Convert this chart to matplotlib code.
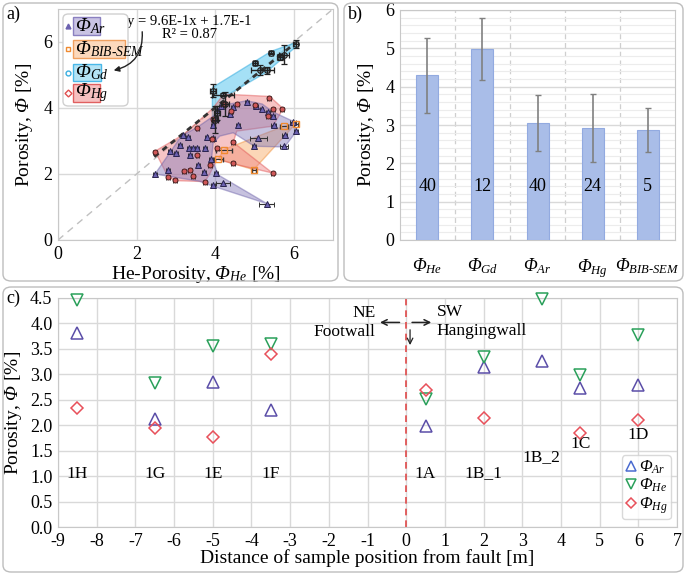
import matplotlib
matplotlib.use('Agg')
import matplotlib.pyplot as plt
from matplotlib.patches import FancyBboxPatch, Polygon, Rectangle, FancyArrowPatch
from matplotlib.lines import Line2D
import numpy as np

plt.rcParams['font.family'] = ['Liberation Serif', 'DejaVu Serif']
plt.rcParams['mathtext.fontset'] = 'custom'
plt.rcParams['mathtext.rm'] = 'Liberation Serif'
plt.rcParams['mathtext.it'] = 'Liberation Serif:italic'
plt.rcParams['mathtext.sf'] = 'Liberation Serif:italic'
plt.rcParams['mathtext.bf'] = 'Liberation Serif:bold'
plt.rcParams['axes.unicode_minus'] = False

W, H = 685, 574

PHI = r'\mathsf{Φ}'

# ---------------- Panel a data ----------------
ar_x = [2.47, 2.80, 2.86, 3.10, 3.17, 3.31, 3.33, 3.44, 3.53, 3.36, 3.57, 3.71, 3.74, 3.78,
        3.95, 4.02, 4.03, 4.20, 3.95, 5.31, 4.37, 4.46, 4.58, 4.80, 5.03, 5.18, 5.35, 5.47,
        5.49, 5.10, 5.00, 5.75, 5.77, 5.98, 6.05, 3.95, 4.05, 3.90, 3.00, 4.15]
ar_y = [2.00, 2.13, 2.69, 2.89, 3.17, 3.13, 2.79, 2.79, 2.79, 2.59, 2.28, 2.05, 2.79, 3.13,
        3.50, 3.71, 2.03, 1.74, 1.67, 1.10, 3.81, 4.02, 3.50, 4.19, 4.07, 3.96, 3.88, 3.76,
        3.47, 3.08, 2.84, 2.84, 3.17, 3.58, 3.30, 3.10, 3.95, 2.45, 2.65, 4.05]
ar_xerr = [0.05, 0.05, 0.05, 0.05, 0.05, 0.05, 0.05, 0.05, 0.05, 0.05, 0.05, 0.05, 0.05, 0.05,
           0.05, 0.05, 0.05, 0.18, 0.05, 0.20, 0.05, 0.05, 0.05, 0.05, 0.05, 0.05, 0.05, 0.05,
           0.07, 0.22, 0.05, 0.10, 0.07, 0.07, 0.05, 0.05, 0.05, 0.05, 0.05, 0.05]

hg_x = [2.47, 2.80, 2.97, 3.36, 3.44, 3.55, 3.55, 3.74, 3.91, 3.95, 4.22, 4.46, 4.46, 4.56,
        5.01, 5.37, 5.35, 5.47, 5.71, 5.46, 3.86, 4.05, 3.20, 4.40]
hg_y = [2.66, 1.92, 1.82, 2.13, 1.95, 2.57, 3.40, 1.77, 3.05, 3.66, 4.12, 2.96, 2.33, 4.12,
        4.09, 4.29, 3.76, 3.98, 3.98, 2.03, 2.28, 2.80, 2.10, 3.90]

bib_x = [4.08, 4.22, 4.98, 5.75, 6.05]
bib_y = [2.45, 2.74, 2.13, 3.45, 3.52]
bib_xerr = [0.12, 0.20, 0.05, 0.10, 0.05]

gd_x = [3.95, 4.20, 4.25, 4.00, 4.05, 5.02, 5.14, 5.31, 5.43, 5.75, 5.65, 6.05]
gd_y = [4.52, 4.40, 4.12, 3.65, 3.85, 5.36, 5.16, 5.14, 5.68, 5.62, 5.55, 5.93]
gd_xerr = [0.07, 0.28, 0.10, 0.08, 0.08, 0.05, 0.22, 0.18, 0.05, 0.12, 0.08, 0.07]
gd_yerr = [0.20, 0.05, 0.35, 0.40, 0.20, 0.05, 0.15, 0.10, 0.05, 0.28, 0.10, 0.12]

ar_hull = [(2.47, 2.0), (3.14, 3.15), (3.55, 3.42), (3.95, 3.75), (4.2, 4.1), (4.46, 4.14),
           (4.8, 4.22), (5.2, 4.12), (5.47, 3.88), (5.98, 3.6), (6.07, 3.3), (5.77, 2.82),
           (5.0, 2.84), (4.46, 3.25), (4.12, 3.15), (3.95, 2.94), (3.91, 2.48), (4.08, 1.97),
           (5.32, 1.1), (3.95, 1.63), (3.6, 1.78)]
hg_hull = [(2.47, 2.69), (3.2, 3.2), (3.95, 4.0), (4.22, 4.42), (5.39, 4.35), (5.73, 3.98),
           (5.47, 3.45), (4.55, 3.3), (4.46, 2.96), (5.46, 2.03), (4.46, 2.31), (4.05, 2.45),
           (3.86, 2.0), (3.74, 1.77), (2.97, 1.8), (2.8, 1.92)]
bib_hull = [(4.08, 2.45), (4.22, 2.74), (5.75, 3.45), (6.07, 3.55), (4.98, 2.13)]
gd_hull = [(3.93, 4.62), (5.02, 5.42), (5.43, 5.72), (6.05, 5.98), (6.05, 5.85), (5.3, 5.08),
           (4.25, 4.35), (4.02, 3.6), (3.93, 3.6)]

fit_slope, fit_icpt = 0.96, 0.17
fit_range = [2.45, 6.05]

# ---------------- Panel b data ----------------
b_names = ['He', 'Gd', 'Ar', 'Hg', r'BIB\text{-}SEM']
b_means = [4.30, 4.98, 3.05, 2.92, 2.87]
b_std = [0.98, 0.80, 0.74, 0.89, 0.58]
b_counts = ['40', '12', '40', '24', '5']

# ---------------- Panel c data ----------------
c_x = [-8.5, -6.5, -5.0, -3.5, 0.5, 2.0, 3.5, 4.5, 6.0]
c_names = ['1H', '1G', '1E', '1F', '1A', '1B_1', '1B_2', '1C', '1D']
c_ar = [3.81, 2.13, 2.85, 2.29, 1.99, 3.15, 3.26, 2.73, 2.79]
c_he = [4.46, 2.83, 3.56, 3.60, 2.51, 3.35, 4.49, 2.99, 3.77]
c_hg = [2.33, 1.94, 1.77, 3.40, 2.69, 2.15, np.nan, 1.84, 2.10]
c_label_y = [1.05, 1.05, 1.05, 1.05, 1.05, 1.05, 1.37, 1.64, 1.80]


def phi(sub=None):
    if sub is None:
        return r'$' + PHI + r'$'
    return r'$' + PHI + r'_{\mathit{' + sub + r'}}$'


fig = plt.figure(figsize=(W / 100, H / 100), dpi=100)


def fr(px, py):
    return px / W, 1 - py / H


def ax_rect(l, t, r, b):
    return [l / W, 1 - b / H, (r - l) / W, (b - t) / H]


grid_c = '#d9d9d9'
spine_c = '#c8c8c8'

# panel frames
for (l, t, r, b) in [(3, 3, 338, 281), (344, 3, 683, 281), (3, 287, 683, 572)]:
    fig.add_artist(FancyBboxPatch(fr(l, b), (r - l) / W, (b - t) / H,
                                  boxstyle='round,pad=0,rounding_size=0.012',
                                  transform=fig.transFigure, fill=False,
                                  edgecolor='#bdbdbd', lw=1.0))

# ================= Panel a =================
axa = fig.add_axes(ax_rect(58, 9, 333, 240))
axa.set_xlim(0, 7)
axa.set_ylim(0, 7)
axa.set_xticks([0, 2, 4, 6])
axa.set_yticks([0, 2, 4, 6])
axa.grid(True, color=grid_c, lw=1.0)
axa.set_axisbelow(True)
for s in axa.spines.values():
    s.set_color(spine_c)
axa.tick_params(length=0, labelsize=13, pad=4)
axa.plot([0, 7], [0, 7], ls=(0, (5, 4)), color='#c0c0c0', lw=1.0, zorder=1)

axa.add_patch(Polygon(gd_hull, closed=True, fc='#5bc8f0', ec='#3aaee0', alpha=0.55, lw=1, zorder=2))
axa.add_patch(Polygon(bib_hull, closed=True, fc='#f7a860', ec='#f08a30', alpha=0.45, lw=1, zorder=2))
axa.add_patch(Polygon(hg_hull, closed=True, fc='#ee8080', ec='#e05050', alpha=0.45, lw=1, zorder=2))
axa.add_patch(Polygon(ar_hull, closed=True, fc='#8378b8', ec='#6a5fa8', alpha=0.45, lw=1, zorder=3))

fx = np.array(fit_range)
axa.plot(fx, fit_slope * fx + fit_icpt, color='#333333', lw=2.0, ls=(0, (2.0, 1.8)), zorder=4)

axa.errorbar(ar_x, ar_y, xerr=ar_xerr, fmt='^', ms=3.8, mfc='#6c62b0', mec='#2a2450', mew=0.7,
             ecolor='#333333', elinewidth=0.8, capsize=1.8, zorder=5)
axa.errorbar(hg_x, hg_y, xerr=0.05, fmt='o', ms=3.6, mfc='#d05858', mec='#4a2020', mew=0.7,
             ecolor='#333333', elinewidth=0.8, capsize=1.8, zorder=5)
axa.errorbar(bib_x, bib_y, xerr=bib_xerr, fmt='s', ms=4, mfc='none', mec='#f08a30', mew=1.0,
             ecolor='#333333', elinewidth=0.8, capsize=1.8, zorder=5)
axa.errorbar(gd_x, gd_y, xerr=gd_xerr, yerr=gd_yerr, fmt='o', ms=4, mfc='none', mec='#222222',
             mew=0.9, ecolor='#222222', elinewidth=1.0, capsize=2, zorder=6)

axa.set_xlabel('He-Porosity, ' + phi('He') + ' [%]', fontsize=14, labelpad=1)
axa.set_ylabel('Porosity, ' + phi() + ' [%]', fontsize=14, labelpad=6)

# legend a (drawn manually)
fig.add_artist(FancyBboxPatch(fr(63, 106), 65 / W, 92 / H,
                              boxstyle='round,pad=0,rounding_size=0.008',
                              transform=fig.transFigure, fc='white', ec='#d0d0d0', lw=1, zorder=10))
leg_items = [
    ('^', '#6c62b0', '#c9c3e3', '#8a80c0', (73, 17, 100, 35), 'Ar'),
    ('s', '#f08a30', '#fcd9bd', '#f0a060', (73, 40, 125, 58), r'BIB\text{-}SEM'),
    ('o', '#3aaee0', '#b3e3f5', '#4ab8e8', (73, 64, 101, 81), 'Gd'),
    ('D', '#e05050', '#f7c0c0', '#e06060', (73, 84, 100, 102), 'Hg'),
]
for mk, mc, rfc, rec, (l, t, r, b), sub in leg_items:
    fig.add_artist(Rectangle(fr(l, b), (r - l) / W, (b - t) / H, transform=fig.transFigure,
                             fc=rfc, ec=rec, lw=1, zorder=11))
    cy = (t + b) / 2
    fig.add_artist(Line2D([68 / W], [1 - cy / H], marker=mk, ms=3.5, mfc='none' if mk != '^' else mc,
                          mec=mc, mew=1, transform=fig.transFigure, zorder=12))
    fig.text(l / W + 2 / W, 1 - cy / H, phi(sub), fontsize=14, va='center', ha='left', zorder=12)

fig.text(189 / W, 1 - 22 / H, 'y = 9.6E-1x + 1.7E-1', fontsize=10.5, ha='center', va='center')
fig.text(189 / W, 1 - 34 / H, 'R² = 0.87', fontsize=10.5, ha='center', va='center')
fig.add_artist(FancyArrowPatch(fr(142, 29), fr(111, 71), transform=fig.transFigure,
                               connectionstyle='arc3,rad=-0.45', arrowstyle='-|>',
                               mutation_scale=8, color='#222222', lw=1.0, zorder=13))
fig.text(6 / W, 1 - 14 / H, 'a)', fontsize=13, ha='left', va='center')

# ================= Panel b =================
axb = fig.add_axes(ax_rect(400, 10, 675, 240))
xb = np.arange(len(b_means))
axb.bar(xb, b_means, width=0.4, color='#a9bde8', edgecolor='#92aae0', lw=0.8, zorder=3)
axb.errorbar(xb, b_means, yerr=b_std, fmt='none', ecolor='#808080', elinewidth=1.2, capsize=2.5,
             capthick=1.0, zorder=4)
for xi, n in zip(xb, b_counts):
    axb.text(xi, 1.4, n, ha='center', va='center', fontsize=13, zorder=5)
axb.set_xlim(-0.5, len(b_means) - 0.5)
axb.set_ylim(0, 6)
axb.set_yticks(range(0, 7))
axb.set_yticks(np.arange(0, 6.01, 0.2), minor=True)
axb.grid(True, which='major', axis='y', color=grid_c, lw=1.0, zorder=0)
axb.grid(True, which='minor', axis='y', color='#ececec', lw=0.8, zorder=0)
for xv in np.arange(0.5, len(b_means) - 0.5, 1):
    axb.axvline(xv, color='#cfcfcf', ls=(0, (4, 3)), lw=0.9, zorder=1)
axb.set_xticks(xb)
axb.set_xticklabels([phi(n) for n in b_names], fontsize=13)
axb.tick_params(axis='both', which='both', length=0)
axb.tick_params(axis='y', labelsize=13, pad=4)
axb.tick_params(axis='x', pad=12)
for s in axb.spines.values():
    s.set_color(spine_c)
axb.set_ylabel('Porosity, ' + phi() + ' [%]', fontsize=14, labelpad=6)
fig.text(348 / W, 1 - 14 / H, 'b)', fontsize=13, ha='left', va='center')

# ================= Panel c =================
axc = fig.add_axes(ax_rect(58, 298, 677, 527))
axc.set_xlim(-9, 7)
axc.set_ylim(0, 4.5)
axc.set_xticks(range(-9, 8))
axc.set_yticks(np.arange(0, 4.51, 0.5))
axc.set_yticklabels([f'{v:.1f}' for v in np.arange(0, 4.51, 0.5)])
axc.grid(True, color=grid_c, lw=1.0)
axc.set_axisbelow(True)
for s in axc.spines.values():
    s.set_color(spine_c)
axc.tick_params(length=0, labelsize=13, pad=4)
axc.axvline(0, color='#e04848', ls=(0, (4, 3)), lw=1.2, zorder=2)

axc.plot(c_x, c_ar, ls='none', marker='^', ms=8.5, mfc='none', mec='#5b4ea8', mew=1.1, clip_on=False,
         zorder=5)
axc.plot(c_x, c_he, ls='none', marker='v', ms=8.5, mfc='none', mec='#2aa05a', mew=1.1, clip_on=False,
         zorder=5)
axc.plot(c_x, c_hg, ls='none', marker='D', ms=6.5, mfc='none', mec='#e8505a', mew=1.1, clip_on=False,
         zorder=5)
for x, n, ly in zip(c_x, c_names, c_label_y):
    axc.text(x, ly, n, ha='center', va='center', fontsize=12.5)

axc.text(-0.8, 4.2, 'NE', ha='right', va='center', fontsize=12.5)
axc.text(-0.8, 3.84, 'Footwall', ha='right', va='center', fontsize=12.5)
axc.text(0.79, 4.22, 'SW', ha='left', va='center', fontsize=12.5)
axc.text(0.79, 3.86, 'Hangingwall', ha='left', va='center', fontsize=12.5)
axc.annotate('', xy=(-0.75, 4.02), xytext=(-0.1, 4.02),
             arrowprops=dict(arrowstyle='->', color='#222222', lw=1.1))
axc.annotate('', xy=(0.72, 4.02), xytext=(0.08, 4.02),
             arrowprops=dict(arrowstyle='->', color='#222222', lw=1.1))
axc.annotate('', xy=(0.1, 3.52), xytext=(0.1, 3.93),
             arrowprops=dict(arrowstyle='->', color='#222222', lw=0.9))

axc.set_xlabel('Distance of sample position from fault [m]', fontsize=14, labelpad=0)
axc.set_ylabel('Porosity, ' + phi() + ' [%]', fontsize=14, labelpad=4)

handles = [Line2D([], [], ls='none', marker='^', ms=7, mfc='none', mec='#4a6bd0', mew=1.1),
           Line2D([], [], ls='none', marker='v', ms=7, mfc='none', mec='#2aa05a', mew=1.1),
           Line2D([], [], ls='none', marker='D', ms=5.5, mfc='none', mec='#e8505a', mew=1.1)]
leg = axc.legend(handles, [phi('Ar'), phi('He'), phi('Hg')],
                 loc='lower right', fontsize=12, handlelength=0.7, handletextpad=0.1,
                 borderpad=0.2, borderaxespad=0.2, labelspacing=0.05, frameon=True, fancybox=True,
                 bbox_to_anchor=(0.995, 0.02))
leg.get_frame().set_edgecolor('#d0d0d0')
fig.text(6 / W, 1 - 298 / H, 'c)', fontsize=13, ha='left', va='center')

fig.savefig('out.png', dpi=100)
